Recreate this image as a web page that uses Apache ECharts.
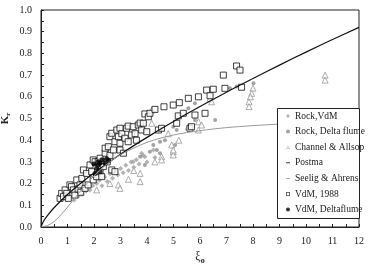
<!DOCTYPE html>
<html>
<head>
<meta charset="utf-8">
<script src="https://cdn.jsdelivr.net/npm/echarts@6/dist/echarts.min.js"></script>
<style>
  body { margin: 0; background: #fff; }
  #chart { width: 371px; height: 269px; }
</style>
</head>
<body>
<div id="chart"></div>
<script>
// tick labels
var xTicks = [0, 1, 2, 3, 4, 5, 6, 7, 8, 9, 10, 11, 12];
var yTicks = [0, 0.1, 0.2, 0.3, 0.4, 0.5, 0.6, 0.7, 0.8, 0.9, 1.0];

// Rock, VdM  [xi, Kr]
var rockVdm = [
    [1.25, 0.125], [1.40, 0.140], [1.55, 0.150], [1.70, 0.165], [1.85, 0.170],
    [1.95, 0.190], [2.10, 0.200], [2.20, 0.215], [2.30, 0.190], [2.40, 0.230],
    [2.50, 0.210], [2.60, 0.245], [2.70, 0.225], [2.80, 0.260], [2.90, 0.240],
    [3.00, 0.270], [3.10, 0.250], [3.20, 0.285], [3.30, 0.260], [3.40, 0.300],
    [3.50, 0.275], [3.60, 0.310], [3.70, 0.290], [3.85, 0.330], [4.00, 0.300],
    [4.30, 0.320], [3.48, 0.301], [3.80, 0.340], [3.92, 0.324], [4.24, 0.355]
];
// Rock, Delta flume
var rockDelta = [
    [4.24, 0.378], [4.37, 0.355], [4.49, 0.340], [5.06, 0.378], [4.49, 0.393],
    [4.68, 0.400], [4.99, 0.462], [5.12, 0.447], [5.81, 0.493], [6.57, 0.493],
    [3.92, 0.286], [3.74, 0.324], [4.11, 0.347], [5.56, 0.547], [5.81, 0.570],
    [7.13, 0.639], [7.38, 0.647], [8.02, 0.662]
];
// Channel & Allsop
var channel = [
    [2.10, 0.171], [2.92, 0.194], [2.98, 0.178], [3.74, 0.247], [3.74, 0.209],
    [4.55, 0.324], [4.55, 0.309], [4.99, 0.347], [4.99, 0.332], [4.93, 0.378],
    [4.99, 0.355], [4.18, 0.478], [4.18, 0.539], [5.94, 0.485], [6.06, 0.470],
    [5.94, 0.447], [5.56, 0.462], [6.38, 0.593], [6.44, 0.577], [8.00, 0.640],
    [7.95, 0.616], [7.90, 0.600], [7.85, 0.577], [7.85, 0.555], [10.72, 0.700],
    [10.72, 0.677], [3.30, 0.220], [3.50, 0.260], [2.60, 0.200], [4.30, 0.300],
    [5.20, 0.400], [4.80, 0.430]
];
// Postma
var postma = [
    [0, 0], [0.1, 0.028], [0.25, 0.054], [0.5, 0.090], [1, 0.150], [1.5, 0.202],
    [2, 0.249], [3, 0.335], [4, 0.413], [5, 0.486], [6, 0.555], [7, 0.621],
    [8, 0.684], [9, 0.746], [10, 0.806], [11, 0.864], [12, 0.920]
];
// Seelig & Ahrens
var seelig = [
    [0, 0], [0.25, 0.007], [0.5, 0.026], [0.75, 0.056], [1, 0.091], [1.5, 0.167],
    [2, 0.235], [2.5, 0.291], [3, 0.333], [4, 0.390], [5, 0.424], [6, 0.444],
    [7, 0.458], [8, 0.467], [9, 0.474], [10, 0.478], [11, 0.482], [12, 0.485]
];
// VdM, 1988
var vdm1988 = [
    [0.72, 0.132], [0.78, 0.155], [0.85, 0.140], [0.91, 0.171], [0.97, 0.155],
    [1.03, 0.132], [1.09, 0.194], [1.15, 0.186], [1.22, 0.171], [1.28, 0.147],
    [1.35, 0.217], [1.40, 0.175], [1.47, 0.194], [1.50, 0.160], [1.54, 0.224],
    [1.60, 0.263], [1.66, 0.178], [1.72, 0.247], [1.78, 0.194], [1.85, 0.286],
    [1.91, 0.255], [1.97, 0.217], [1.97, 0.309], [2.04, 0.301], [2.10, 0.232],
    [2.16, 0.301], [2.23, 0.255], [2.23, 0.317], [2.29, 0.232], [2.35, 0.278],
    [2.42, 0.340], [2.42, 0.363], [2.50, 0.300], [2.54, 0.370], [2.60, 0.416],
    [2.60, 0.330], [2.67, 0.432], [2.67, 0.263], [2.73, 0.355], [2.79, 0.393],
    [2.79, 0.255], [2.86, 0.447], [2.92, 0.416], [2.98, 0.455], [2.98, 0.386],
    [2.98, 0.355], [3.05, 0.430], [3.11, 0.340], [3.17, 0.409], [3.23, 0.455],
    [3.29, 0.465], [3.29, 0.393], [3.42, 0.424], [3.48, 0.462], [3.55, 0.430],
    [3.60, 0.400], [3.67, 0.470], [3.74, 0.479], [3.80, 0.447], [3.86, 0.478],
    [3.92, 0.521], [3.99, 0.439], [4.05, 0.508], [4.11, 0.524], [4.30, 0.542],
    [4.43, 0.447], [4.55, 0.455], [4.64, 0.554], [4.99, 0.562], [5.12, 0.478],
    [5.18, 0.512], [5.22, 0.573], [5.37, 0.524], [5.56, 0.593], [5.62, 0.455],
    [5.68, 0.462], [5.81, 0.516], [5.94, 0.600], [6.19, 0.524], [6.25, 0.631],
    [6.38, 0.605], [6.50, 0.635], [6.88, 0.700], [6.94, 0.639], [7.38, 0.742],
    [7.51, 0.723], [7.57, 0.644]
];
// VdM, Deltaflume
var vdmDelta = [
    [2.04, 0.247], [2.10, 0.270], [2.16, 0.301], [2.23, 0.294], [2.23, 0.255],
    [2.30, 0.310], [2.42, 0.294], [2.48, 0.315], [2.55, 0.305], [2.15, 0.285],
    [2.00, 0.290]
];

var serif = 'Liberation Serif';
// legend glyphs as filled paths (hollow ones are rings), no borders
var lineIcon = 'path://M0,0 L10,0 L10,2 L0,2 Z';
var squareIcon = 'path://M0,0 L10,0 L10,10 L0,10 Z M2,2 L2,8 L8,8 L8,2 Z';
var triIcon = 'path://M5,0 L10,9 L0,9 Z M5,3 L1.9,7.8 L8.1,7.8 Z';
var dotIcon = 'path://M5,0 A5,5 0 1 1 4.99,0 Z';
var myChart = echarts.init(document.getElementById('chart'));

var option = {
    animation: false,
    backgroundColor: '#fff',
    textStyle: { fontFamily: serif },
    grid: {
        left: 41, right: 12, top: 10, bottom: 42,
        outerBoundsMode: 'none',
        containLabel: false,
        show: true, borderColor: '#222', borderWidth: 1
    },
    // white box behind the legend, covers the lines
    graphic: [{
        type: 'rect',
        z: 5,
        shape: { x: 277.5, y: 108.5, width: 82, height: 110 },
        style: { fill: '#fff', stroke: '#222', lineWidth: 1 }
    }],
    legend: {
        orient: 'vertical',
        left: 286, top: 111,
        z: 6,
        padding: 0,
        itemWidth: 4, itemHeight: 4, itemGap: 5.6,
        itemStyle: { borderWidth: 0 },
        textStyle: { fontFamily: serif, fontSize: 9.5, color: '#222', lineHeight: 10 },
        data: [
            { name: 'Rock,VdM', icon: 'diamond', itemStyle: { color: '#a0a0a0', borderWidth: 0 } },
            { name: 'Rock, Delta flume', icon: dotIcon, itemStyle: { color: '#8c8c8c', borderWidth: 0 } },
            { name: 'Channel & Allsop', icon: triIcon, itemStyle: { color: '#999', borderWidth: 0 } },
            { name: 'Postma', icon: lineIcon, itemStyle: { color: '#111', borderWidth: 0 } },
            { name: 'Seelig & Ahrens', icon: lineIcon, itemStyle: { color: '#999', borderWidth: 0 } },
            { name: 'VdM, 1988', icon: squareIcon, itemStyle: { color: '#222', borderWidth: 0 } },
            { name: 'VdM, Deltaflume', icon: dotIcon, itemStyle: { color: '#000', borderWidth: 0 } }
        ]
    },
    xAxis: {
        type: 'value', min: 0, max: 12, interval: 1,
        name: '{a|ξ}{b|o}', nameLocation: 'middle', nameGap: 22,
        nameMoveOverlap: false,
        nameTextStyle: {
            rich: {
                a: { fontFamily: serif, fontSize: 12, color: '#222' },
                b: { fontFamily: serif, fontSize: 8, fontWeight: 'bold', color: '#222', padding: [8, 0, 0, 0] }
            }
        },
        axisLine: { lineStyle: { color: '#222' } },
        axisTick: { inside: true, length: 3, lineStyle: { color: '#222' } },
        minorTick: { show: true, splitNumber: 2, length: 3, lineStyle: { color: '#222' } },
        splitLine: { show: false },
        axisLabel: { fontFamily: serif, fontSize: 10, color: '#222', margin: 9 }
    },
    yAxis: {
        type: 'value', min: 0, max: 1, interval: 0.1,
        name: '{a|K}{b|r}', nameLocation: 'middle', nameGap: 29, nameRotate: 90,
        nameMoveOverlap: false,
        nameTextStyle: {
            rich: {
                a: { fontFamily: serif, fontSize: 11, fontWeight: 'bold', color: '#222' },
                b: { fontFamily: serif, fontSize: 7, fontWeight: 'bold', color: '#222', padding: [6, 0, 0, 0] }
            }
        },
        axisLine: { lineStyle: { color: '#222' } },
        axisTick: { inside: true, length: 3, lineStyle: { color: '#222' } },
        minorTick: { show: true, splitNumber: 2, length: 3, lineStyle: { color: '#222' } },
        splitLine: { show: false },
        axisLabel: {
            fontFamily: serif, fontSize: 10, color: '#222', margin: 9,
            formatter: function (v) { return v.toFixed(1); }
        }
    },
    series: [
        {
            name: 'Rock,VdM', type: 'scatter', data: rockVdm,
            symbol: 'diamond', symbolSize: 5,
            itemStyle: { color: '#a0a0a0' }
        },
        {
            name: 'Rock, Delta flume', type: 'scatter', data: rockDelta,
            symbol: 'circle', symbolSize: 4,
            itemStyle: { color: '#8c8c8c' }
        },
        {
            name: 'Channel & Allsop', type: 'scatter', data: channel,
            symbol: 'triangle', symbolSize: 6,
            itemStyle: { color: '#fff', borderColor: '#999', borderWidth: 1 }
        },
        {
            name: 'Postma', type: 'line', data: postma, smooth: 0.3,
            symbol: 'none', z: 3,
            lineStyle: { color: '#111', width: 1.2 },
            itemStyle: { color: '#111' }
        },
        {
            name: 'Seelig & Ahrens', type: 'line', data: seelig, smooth: 0.3,
            symbol: 'none', z: 3,
            lineStyle: { color: '#999', width: 1 },
            itemStyle: { color: '#999' }
        },
        {
            name: 'VdM, 1988', type: 'scatter', data: vdm1988,
            symbol: 'rect', symbolSize: 6,
            itemStyle: { color: '#fff', borderColor: '#111', borderWidth: 1 }
        },
        {
            name: 'VdM, Deltaflume', type: 'scatter', data: vdmDelta,
            symbol: 'circle', symbolSize: 5,
            itemStyle: { color: '#000' }
        }
    ]
};
myChart.setOption(option);
</script>
</body>
</html>
